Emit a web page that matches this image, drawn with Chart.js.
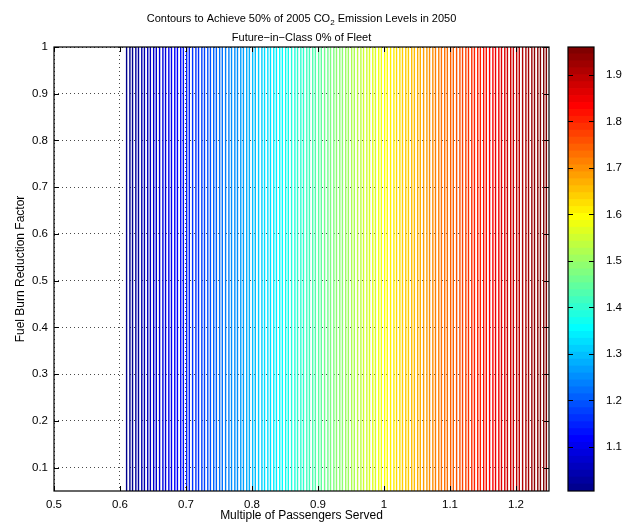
<!DOCTYPE html>
<html>
<head>
<meta charset="utf-8">
<script src="https://cdn.jsdelivr.net/npm/chart.js@4"></script>
<style>
html, body { margin: 0; padding: 0; background: #fff; }
#wrap { position: relative; width: 627px; height: 523px; }
#main { position: absolute; left: 0; top: 0; }
#cbar { position: absolute; left: 556px; top: 0; }
</style>
</head>
<body>
<div id="wrap">
  <canvas id="main" width="556" height="523"></canvas>
  <canvas id="cbar" width="71" height="523"></canvas>
</div>
<script>
// x position of each contour line (Multiple of Passengers Served)
const contourX = [
  0.610,0.615,0.619,0.624,0.628,0.633,0.637,0.642,0.646,0.651,0.655,
  0.660,0.665,0.669,0.674,0.678,0.683,0.687,0.692,0.696,0.701,0.705,
  0.710,0.715,0.719,0.724,0.728,0.733,0.737,0.742,0.746,0.751,0.755,
  0.760,0.765,0.769,0.774,0.778,0.783,0.787,0.792,0.796,0.801,0.805,
  0.810,0.815,0.819,0.824,0.828,0.833,0.837,0.842,0.846,0.851,0.855,
  0.860,0.865,0.869,0.874,0.878,0.883,0.887,0.892,0.896,0.901,0.905,
  0.910,0.915,0.919,0.924,0.928,0.933,0.937,0.942,0.946,0.951,0.955,
  0.960,0.965,0.969,0.974,0.978,0.983,0.987,0.992,0.996,1.001,1.005,
  1.010,1.015,1.019,1.024,1.028,1.033,1.037,1.042,1.046,1.051,1.055,
  1.060,1.065,1.069,1.074,1.078,1.083,1.087,1.092,1.096,1.101,1.105,
  1.110,1.115,1.119,1.124,1.128,1.133,1.137,1.142,1.146,1.151,1.155,
  1.160,1.165,1.169,1.174,1.178,1.183,1.187,1.192,1.196,1.201,1.205,
  1.210,1.215,1.219,1.224,1.228,1.233,1.237,1.242,1.246
];
const yRange = [0.05, 1];
const xRange = [0.5, 1.25];
const xTicks = [0.5, 0.6, 0.7, 0.8, 0.9, 1, 1.1, 1.2];
const yTicks = [0.1, 0.2, 0.3, 0.4, 0.5, 0.6, 0.7, 0.8, 0.9, 1];
const levelRange = [1.005, 1.96];
const cbarTicks = [1.1, 1.2, 1.3, 1.4, 1.5, 1.6, 1.7, 1.8, 1.9];

const FONT = '"Liberation Sans", Arial, Helvetica, sans-serif';
Chart.defaults.font.family = FONT;
Chart.defaults.font.size = 11;
Chart.defaults.color = '#000';

// matlab jet(64)
function jet64(k) {
  const u = j => j <= 16 ? j / 16 : (j <= 31 ? 1 : (48 - j) / 16);
  const part = j => (j >= 1 && j <= 47) ? u(j) : 0;
  const r = part(k - 24), g = part(k - 8), b = part(k + 8);
  return `rgb(${Math.round(r*255)},${Math.round(g*255)},${Math.round(b*255)})`;
}
function levelColor(i, n) {
  let k = Math.floor(i / (n - 1) * 64) + 1;
  if (k > 64) k = 64;
  return jet64(k);
}

// inward ticks + box, matlab style
function boxTicks(xt, yt) {
  return {
    id: 'boxTicks',
    afterDatasetsDraw(chart) {
      const {ctx, chartArea: a, scales} = chart;
      ctx.save();
      ctx.strokeStyle = '#000';
      ctx.lineWidth = 1;
      ctx.beginPath();
      if (xt) xt.forEach(v => {
        const px = Math.round(scales.x.getPixelForValue(v)) + 0.5;
        ctx.moveTo(px, a.bottom); ctx.lineTo(px, a.bottom - 5);
        ctx.moveTo(px, a.top); ctx.lineTo(px, a.top + 5);
      });
      yt.forEach(v => {
        const py = Math.round(scales.y.getPixelForValue(v)) + 0.5;
        ctx.moveTo(a.left, py); ctx.lineTo(a.left + 5, py);
        ctx.moveTo(a.right, py); ctx.lineTo(a.right - 5, py);
      });
      ctx.stroke();
      ctx.lineWidth = 1.2;
      ctx.strokeRect(a.left, a.top, a.right - a.left, a.bottom - a.top);
      ctx.restore();
    }
  };
}

const titlePlugin = {
  id: 'matTitle',
  afterDraw(chart) {
    const {ctx, chartArea: a} = chart;
    const cx = (a.left + a.right) / 2;
    ctx.save();
    ctx.fillStyle = '#000';
    ctx.textBaseline = 'alphabetic';
    const p1 = 'Contours to Achieve 50% of 2005 CO', sub = '2', p2 = ' Emission Levels in 2050';
    ctx.font = '11px ' + FONT;
    const w1 = ctx.measureText(p1).width, w3 = ctx.measureText(p2).width;
    ctx.font = '8px ' + FONT;
    const w2 = ctx.measureText(sub).width;
    let x = cx - (w1 + w2 + w3) / 2;
    ctx.textAlign = 'left';
    ctx.font = '11px ' + FONT;
    ctx.fillText(p1, x, 22);
    ctx.font = '8px ' + FONT;
    ctx.fillText(sub, x + w1, 25);
    ctx.font = '11px ' + FONT;
    ctx.fillText(p2, x + w1 + w2, 22);
    ctx.textAlign = 'center';
    ctx.fillText('Future\u2212in\u2212Class 0% of Fleet', cx, 41);
    ctx.restore();
  }
};

const lineSets = contourX.map((x, i) => ({
  data: [{x: x, y: yRange[0]}, {x: x, y: yRange[1]}],
  borderColor: levelColor(i, contourX.length),
  borderWidth: 1.4,
  pointRadius: 0,
  showLine: true,
  fill: false
}));

const gridStyle = {
  color: 'rgba(40,40,40,0.85)',
  lineWidth: 1,
  drawTicks: false
};
const dotted = { display: false, dash: [1, 3] };

new Chart(document.getElementById('main'), {
  type: 'scatter',
  data: { datasets: lineSets },
  plugins: [boxTicks(xTicks, yTicks), titlePlugin],
  options: {
    responsive: false,
    animation: false,
    devicePixelRatio: 1,
    layout: { padding: { top: 47, right: 7, bottom: 0, left: 0 } },
    plugins: { legend: { display: false }, tooltip: { enabled: false }, title: { display: false } },
    scales: {
      x: {
        type: 'linear',
        min: xRange[0], max: xRange[1],
        afterBuildTicks: s => { s.ticks = xTicks.map(v => ({value: v})); },
        afterFit: s => { s.height = 32; },
        grid: gridStyle,
        border: dotted,
        ticks: { padding: 7, autoSkip: false, maxRotation: 0, font: { size: 11.5 }, callback: v => String(v) },
        title: { display: true, text: 'Multiple of Passengers Served', font: { size: 12 }, padding: { top: 0, bottom: 0 } }
      },
      y: {
        type: 'linear',
        min: yRange[0], max: yRange[1],
        afterBuildTicks: s => { s.ticks = yTicks.map(v => ({value: v})); },
        afterFit: s => { s.width = 54; },
        grid: gridStyle,
        border: dotted,
        ticks: { padding: 6, autoSkip: false, font: { size: 11.5 }, callback: v => String(v) },
        title: { display: true, text: 'Fuel Burn Reduction Factor', font: { size: 12 }, padding: { top: 13, bottom: 0 } }
      }
    }
  }
});

// colour bar
const bandSets = [];
for (let k = 1; k <= 64; k++) {
  const step = (levelRange[1] - levelRange[0]) / 64;
  const lo = levelRange[0] + (k - 1) * step;
  bandSets.push({
    data: [[lo, lo + step * 1.02]],
    backgroundColor: jet64(k),
    borderWidth: 0,
    barPercentage: 1,
    categoryPercentage: 1,
    grouped: false
  });
}

new Chart(document.getElementById('cbar'), {
  type: 'bar',
  data: { labels: [''], datasets: bandSets },
  plugins: [boxTicks(null, cbarTicks)],
  options: {
    responsive: false,
    animation: false,
    devicePixelRatio: 1,
    layout: { padding: { top: 47, right: 0, bottom: 32, left: 12 } },
    plugins: { legend: { display: false }, tooltip: { enabled: false } },
    scales: {
      x: { display: false },
      y: {
        position: 'right',
        min: levelRange[0], max: levelRange[1],
        afterBuildTicks: s => { s.ticks = cbarTicks.map(v => ({value: v})); },
        afterFit: s => { s.width = 33; },
        grid: { display: false },
        border: { display: false },
        ticks: { padding: 4, autoSkip: false, font: { size: 11.5 }, callback: v => String(v) }
      }
    }
  }
});
</script>
</body>
</html>
